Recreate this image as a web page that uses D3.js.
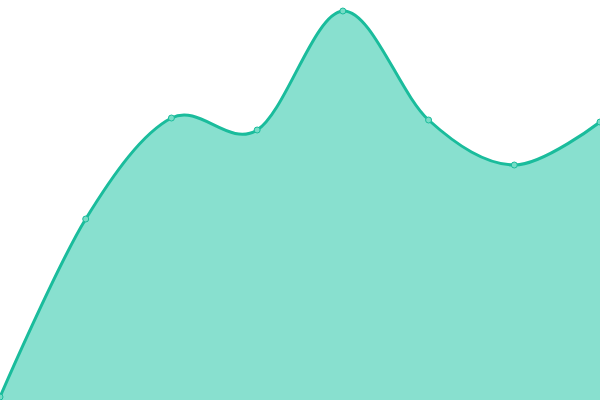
<!DOCTYPE html>
<html>
<head>
<meta charset="utf-8">
<script src="https://cdn.jsdelivr.net/npm/d3@7"></script>
<style>
  body { margin: 0; background: #fff; }
  svg { display: block; }
</style>
</head>
<body>
<svg id="chart" width="600" height="400"></svg>
<script>
var categories = [0, 1, 2, 3, 4, 5, 6, 7];
var values = [3, 181, 282, 270, 389, 280, 235, 278];

var width = 600, height = 400;
var svg = d3.select('#chart');

var x = d3.scaleLinear().domain([0, categories.length - 1]).range([0, width]);
var y = d3.scaleLinear().domain([0, 400]).range([height, 0]);

var points = categories.map(function(c, i) { return [c, values[i]]; });

var area = d3.area()
  .x(function(d) { return x(d[0]); })
  .y0(height)
  .y1(function(d) { return y(d[1]); })
  .curve(d3.curveCardinal);

var line = d3.line()
  .x(function(d) { return x(d[0]); })
  .y(function(d) { return y(d[1]); })
  .curve(d3.curveCardinal);

svg.append('path')
  .datum(points)
  .attr('d', area)
  .attr('fill', '#88e0cf');

svg.append('path')
  .datum(points)
  .attr('d', line)
  .attr('fill', 'none')
  .attr('stroke', '#1abc9c')
  .attr('stroke-width', 3);

svg.selectAll('.point').data(points)
  .enter().append('circle')
  .attr('class', 'point')
  .attr('cx', function(d) { return x(d[0]); })
  .attr('cy', function(d) { return y(d[1]); })
  .attr('r', 3)
  .attr('fill', '#76dcc6')
  .attr('stroke', '#1abc9c')
  .attr('stroke-width', 1);
</script>
</body>
</html>
